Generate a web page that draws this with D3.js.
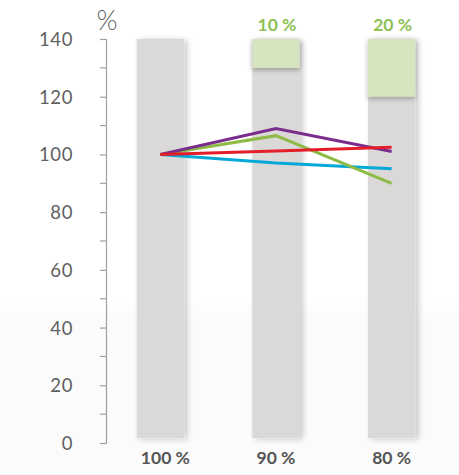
<!DOCTYPE html>
<html><head><meta charset="utf-8">
<script src="https://cdn.jsdelivr.net/npm/d3@7"></script>
<style>
html,body{margin:0;padding:0;background:#fff;}
svg{display:block;}
</style></head>
<body>
<svg id="chart" width="459" height="475"></svg>
<script>
const categories = ["100 %", "90 %", "80 %"];
const topLabels = ["", "10 %", "20 %"];
const barMax = [140, 140, 140];
const greenFrom = [140, 130, 120];
const barBase = 1.7;
const seriesNames = ["purple", "green", "red", "blue"];
const purpleVals = [100, 109, 101];
const greenVals = [100, 106.5, 90];
const redVals = [100, 101.2, 102.5];
const blueVals = [100, 97, 95];
const seriesColors = ["#7b2d8e", "#8dbb45", "#e31e2a", "#05a8d6"];
const majorTicks = [0, 20, 40, 60, 80, 100, 120, 140];
const minorTicks = [10, 30, 50, 70, 90, 110, 130];

const svg = d3.select("#chart");
const W = 459, H = 475;

// background
const defs = svg.append("defs");
const bg = defs.append("linearGradient").attr("id", "bg").attr("x1", 0).attr("y1", 0).attr("x2", 0).attr("y2", 1);
bg.append("stop").attr("offset", "0.63").attr("stop-color", "#ffffff");
bg.append("stop").attr("offset", "0.67").attr("stop-color", "#fbfbfb");
bg.append("stop").attr("offset", "1").attr("stop-color", "#fbfbfb");
svg.append("rect").attr("width", W).attr("height", H).attr("fill", "url(#bg)");

const f = defs.append("filter").attr("id", "sh").attr("x", "-40%").attr("y", "-10%").attr("width", "180%").attr("height", "120%");
f.append("feGaussianBlur").attr("in", "SourceAlpha").attr("stdDeviation", 3).attr("result", "b");
f.append("feOffset").attr("in", "b").attr("dx", 3).attr("dy", 1).attr("result", "o");
f.append("feComponentTransfer").attr("in", "o").attr("result", "o2")
  .append("feFuncA").attr("type", "linear").attr("slope", 0.22);
const m = f.append("feMerge");
m.append("feMergeNode").attr("in", "o2");
m.append("feMergeNode").attr("in", "SourceGraphic");

const f2 = defs.append("filter").attr("id", "sh2").attr("x", "-10%").attr("y", "-10%").attr("width", "120%").attr("height", "140%");
f2.append("feGaussianBlur").attr("in", "SourceAlpha").attr("stdDeviation", 2.5).attr("result", "b");
f2.append("feOffset").attr("in", "b").attr("dx", 0).attr("dy", 2).attr("result", "o");
f2.append("feComponentTransfer").attr("in", "o").attr("result", "o2")
  .append("feFuncA").attr("type", "linear").attr("slope", 0.3);
const m2 = f2.append("feMerge");
m2.append("feMergeNode").attr("in", "o2");
m2.append("feMergeNode").attr("in", "SourceGraphic");

const y = d3.scaleLinear().domain([0, 140]).range([443, 39]);
const x = d3.scaleBand().domain(categories).range([102, 450]).paddingInner(0.59).paddingOuter(0.3);
const font = "Lato, 'DejaVu Sans', sans-serif";

// axis
const axisG = svg.append("g").attr("transform", "translate(106,0)");
axisG.call(d3.axisLeft(y).tickValues(majorTicks).tickSize(6).tickPadding(27).tickFormat(d3.format("d")));
axisG.call(g => g.select(".domain").attr("stroke", "#a0a0a0").attr("stroke-width", 1.2));
axisG.selectAll(".tick line").attr("stroke", "#a0a0a0").attr("stroke-width", 1.2);
axisG.selectAll(".tick text").attr("fill", "#5f5f5f").attr("font-family", font)
  .attr("font-size", 18.5).attr("letter-spacing", 0.6).attr("dy", "0.35em");
axisG.append("g").selectAll("line").data(minorTicks).join("line")
  .attr("x1", -6).attr("x2", 0).attr("y1", d => y(d)).attr("y2", d => y(d))
  .attr("stroke", "#a0a0a0").attr("stroke-width", 1.2);

svg.append("text").attr("x", 107).attr("y", 30).attr("text-anchor", "middle")
  .attr("fill", "#5f5f5f").attr("font-family", font).attr("font-weight", 300).attr("font-size", 27).text("%");

// bars
const bars = svg.append("g");
bars.selectAll("rect.gray").data(categories).join("rect").attr("class", "gray")
  .attr("x", d => x(d)).attr("width", x.bandwidth())
  .attr("y", (d, i) => y(barMax[i])).attr("height", (d, i) => y(barBase) - y(barMax[i]))
  .attr("fill", "#dad9d8").attr("filter", "url(#sh)");
bars.selectAll("rect.green").data(categories.filter((d, i) => greenFrom[i] < barMax[i])).join("rect").attr("class", "green")
  .attr("x", d => x(d)).attr("width", x.bandwidth())
  .attr("y", d => y(barMax[categories.indexOf(d)]))
  .attr("height", d => y(greenFrom[categories.indexOf(d)]) - y(barMax[categories.indexOf(d)]))
  .attr("fill", "#d7e4c0").attr("filter", "url(#sh2)");

// top labels
svg.selectAll("text.top").data(categories).join("text").attr("class", "top")
  .attr("x", d => x(d) + x.bandwidth() / 2 + 1).attr("y", 31).attr("text-anchor", "middle")
  .attr("fill", "#8dc153").attr("font-family", font).attr("font-weight", "bold")
  .attr("font-size", 17.5).text((d, i) => topLabels[i]);

// category labels
svg.selectAll("text.cat").data(categories).join("text").attr("class", "cat")
  .attr("x", (d, i) => x(d) + x.bandwidth() / 2 + (i === 0 ? 5 : 0)).attr("y", 464).attr("text-anchor", "middle")
  .attr("fill", "#555").attr("font-family", font).attr("font-weight", "bold")
  .attr("font-size", 17.5).text(d => d);

// lines
const series = [purpleVals, greenVals, redVals, blueVals];
const line = d3.line().x((d, i) => x(categories[i]) + x.bandwidth() / 2).y(d => y(d));
const order = [3, 1, 0, 2];
svg.append("g").selectAll("path").data(order).join("path")
  .attr("d", k => line(series[k])).attr("fill", "none")
  .attr("stroke", k => seriesColors[k]).attr("stroke-width", 3).attr("stroke-linejoin", "miter");
</script>
</body></html>
